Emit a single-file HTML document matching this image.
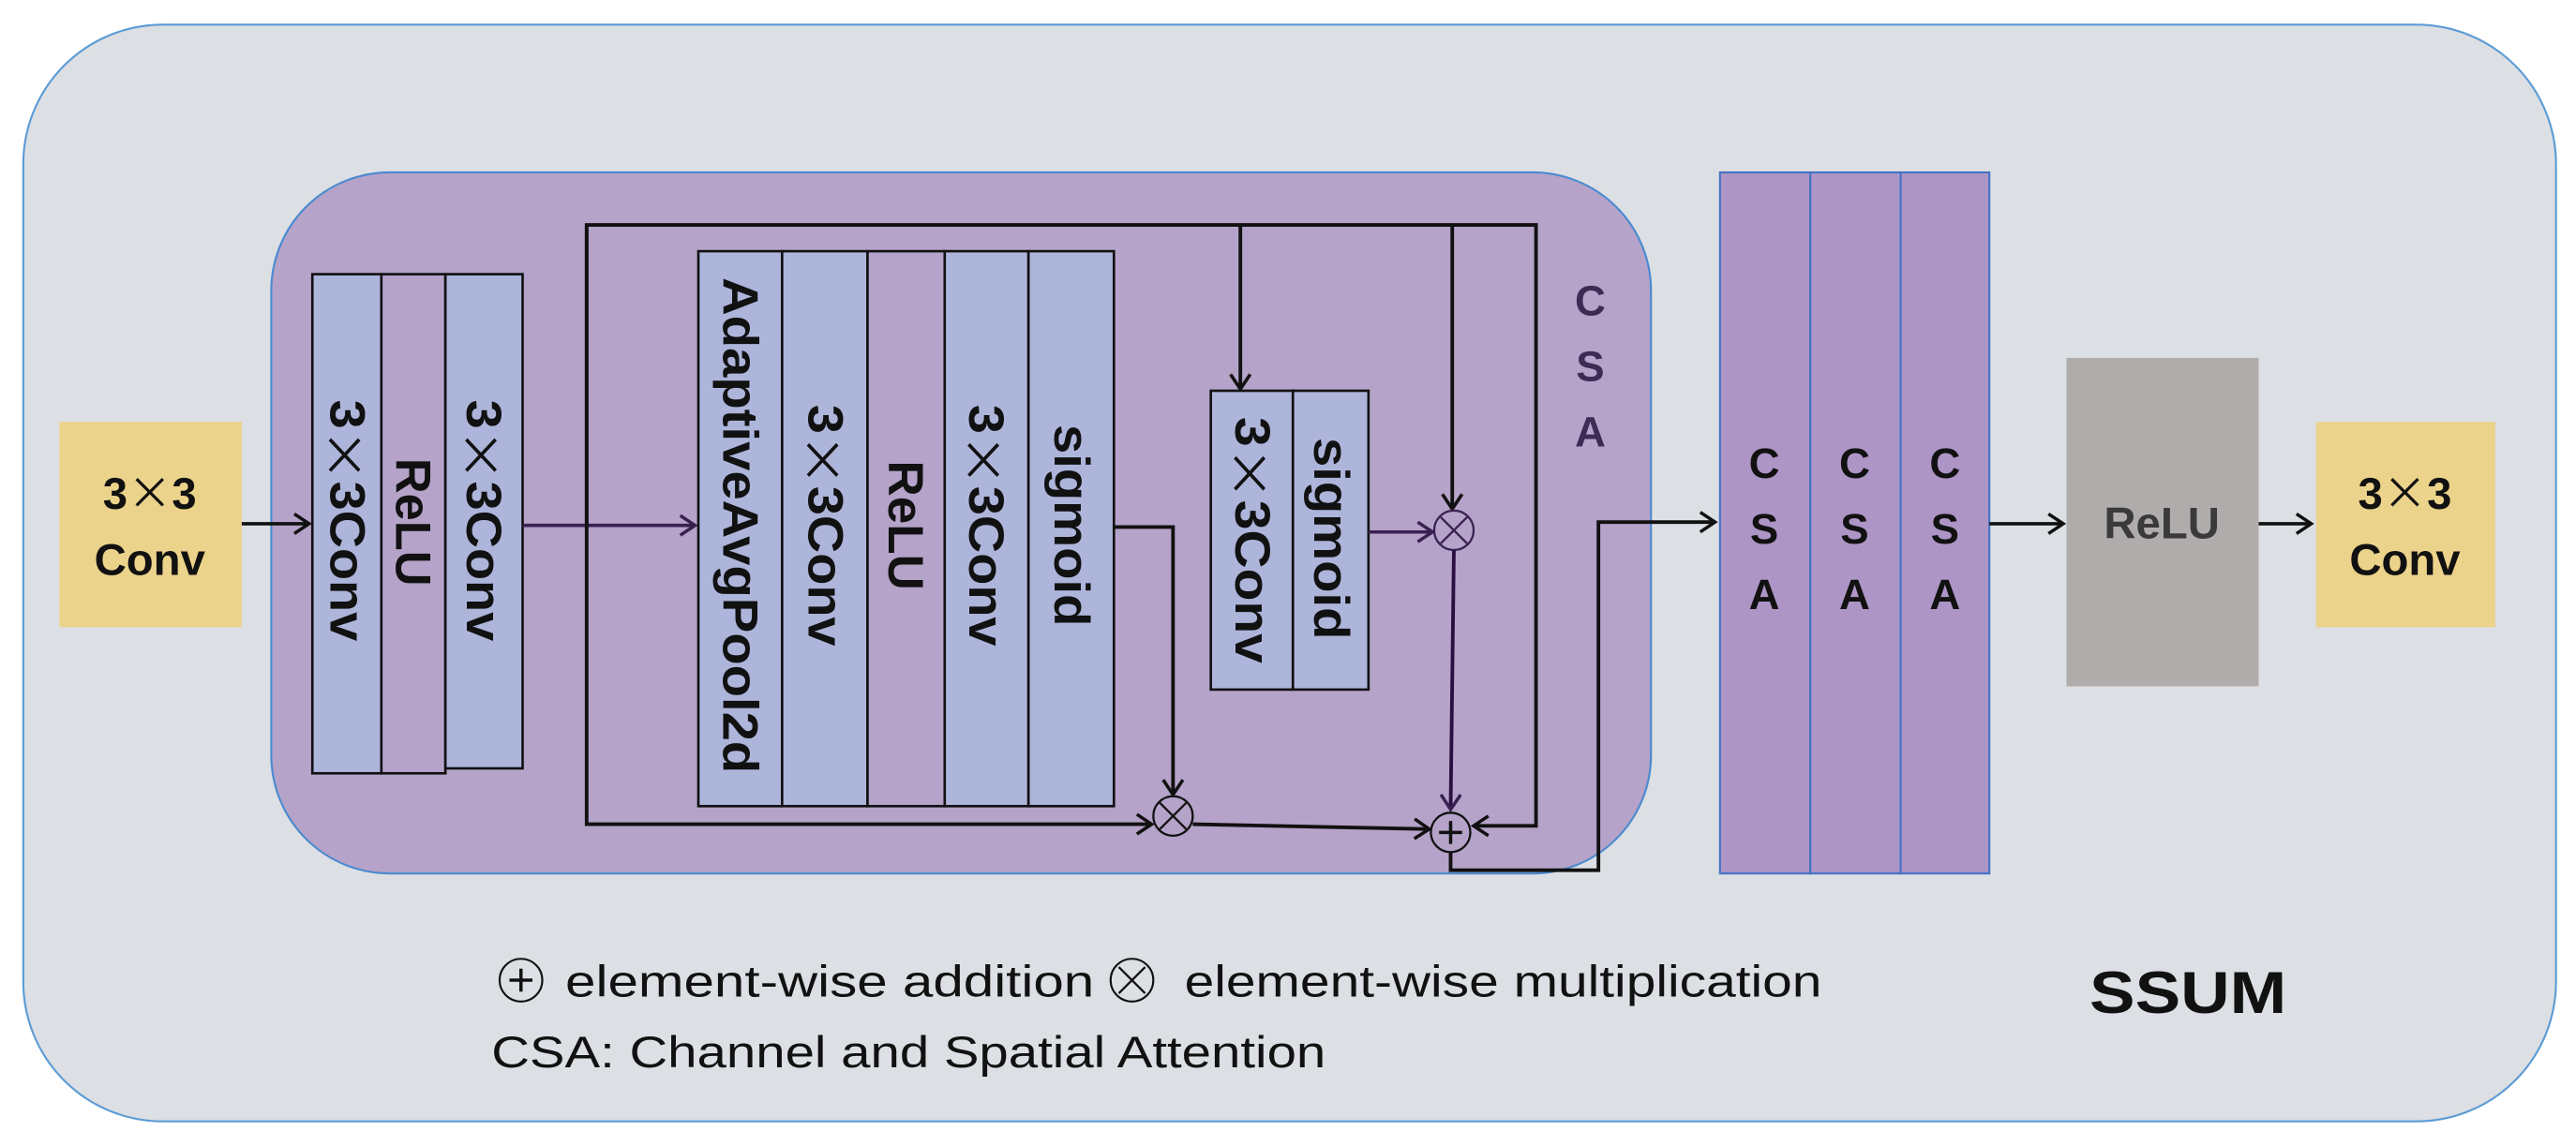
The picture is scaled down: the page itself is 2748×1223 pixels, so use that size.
<!DOCTYPE html>
<html><head><meta charset="utf-8"><style>html,body{margin:0;padding:0;background:#fff}svg{display:block}.x{font-family:"Noto Sans CJK SC",sans-serif;font-weight:normal}</style></head>
<body>
<svg xmlns="http://www.w3.org/2000/svg" width="2748" height="1223" viewBox="0 0 1568 698" font-family="'Liberation Sans', sans-serif">
<defs>
<marker id="a" markerWidth="14" markerHeight="14" refX="11" refY="7" orient="auto" markerUnits="userSpaceOnUse"><path d="M2,1 L11,7 L2,13" fill="none" stroke="#111" stroke-width="2"/></marker>
<marker id="p" markerWidth="14" markerHeight="14" refX="11" refY="7" orient="auto" markerUnits="userSpaceOnUse"><path d="M2,1 L11,7 L2,13" fill="none" stroke="#3a2050" stroke-width="2"/></marker>
</defs>
<rect width="1568" height="698" fill="#fff"/>
<rect x="14" y="15" width="1542" height="668" rx="85" fill="#dcdfe3" stroke="#5b9bd5" stroke-width="1.2"/>
<rect x="165" y="105" width="840" height="427" rx="72" fill="#b5a3c9" stroke="#4a8ad0" stroke-width="1.2"/>
<!-- input conv -->
<rect x="36" y="257" width="111" height="125" fill="#ecd38b"/>
<text x="91" y="310" font-size="27" font-weight="bold" text-anchor="middle" fill="#111">3<tspan class="x">×</tspan>3</text>
<text x="91" y="350" font-size="27" font-weight="bold" text-anchor="middle" fill="#111">Conv</text>
<line x1="147" y1="319" x2="188" y2="319" stroke="#111" stroke-width="2" marker-end="url(#a)"/>
<!-- stack 1 -->
<g stroke="#111" stroke-width="1.5">
<rect x="190" y="167" width="42" height="304" fill="#adb5db"/>
<rect x="232" y="167" width="39" height="304" fill="#b5a3c9"/>
<rect x="271" y="167" width="47" height="301" fill="#adb5db"/>
</g>
<g font-size="30" font-weight="bold" fill="#111" text-anchor="middle" lengthAdjust="spacingAndGlyphs">
<text transform="translate(211,317) rotate(90)" dominant-baseline="central" textLength="147" lengthAdjust="spacingAndGlyphs">3<tspan class="x">×</tspan>3Conv</text>
<text transform="translate(251,318) rotate(90)" dominant-baseline="central" textLength="78" lengthAdjust="spacingAndGlyphs">ReLU</text>
<text transform="translate(294,317) rotate(90)" dominant-baseline="central" textLength="147" lengthAdjust="spacingAndGlyphs">3<tspan class="x">×</tspan>3Conv</text>
</g>
<line x1="318" y1="320" x2="423" y2="320" stroke="#3a2050" stroke-width="2" marker-end="url(#p)"/>
<!-- loop -->
<polyline points="357,320 357,137 935,137 935,503 897,503" fill="none" stroke="#111" stroke-width="2.2" marker-end="url(#a)"/>
<polyline points="357,137 357,502 701,502" fill="none" stroke="#111" stroke-width="2.2" marker-end="url(#a)"/>
<!-- stack 2 -->
<g stroke="#111" stroke-width="1.5">
<rect x="425" y="153" width="51" height="338" fill="#adb5db"/>
<rect x="476" y="153" width="52" height="338" fill="#adb5db"/>
<rect x="528" y="153" width="47" height="338" fill="#b5a3c9"/>
<rect x="575" y="153" width="51" height="338" fill="#adb5db"/>
<rect x="626" y="153" width="52" height="338" fill="#adb5db"/>
</g>
<g font-size="30" font-weight="bold" fill="#111" text-anchor="middle">
<text transform="translate(450,320) rotate(90)" dominant-baseline="central" textLength="302" lengthAdjust="spacingAndGlyphs">AdaptiveAvgPool2d</text>
<text transform="translate(502,320) rotate(90)" dominant-baseline="central" textLength="147" lengthAdjust="spacingAndGlyphs">3<tspan class="x">×</tspan>3Conv</text>
<text transform="translate(551,320) rotate(90)" dominant-baseline="central" textLength="79" lengthAdjust="spacingAndGlyphs">ReLU</text>
<text transform="translate(600,320) rotate(90)" dominant-baseline="central" textLength="147" lengthAdjust="spacingAndGlyphs">3<tspan class="x">×</tspan>3Conv</text>
<text transform="translate(652,320) rotate(90)" dominant-baseline="central" textLength="123" lengthAdjust="spacingAndGlyphs">sigmoid</text>
</g>
<polyline points="678,321 714,321 714,484" fill="none" stroke="#111" stroke-width="2.2" marker-end="url(#a)"/>
<circle cx="714" cy="497" r="12" fill="none" stroke="#111" stroke-width="1.3"/>
<path d="M706,489 L722,505 M722,489 L706,505" stroke="#111" stroke-width="1.3"/>
<line x1="726" y1="502" x2="870" y2="505" stroke="#111" stroke-width="2.2" marker-end="url(#a)"/>
<!-- top branch -->
<line x1="755" y1="137" x2="755" y2="237" stroke="#111" stroke-width="2.2" marker-end="url(#a)"/>
<g stroke="#111" stroke-width="1.5">
<rect x="737" y="238" width="50" height="182" fill="#adb5db"/>
<rect x="787" y="238" width="46" height="182" fill="#adb5db"/>
</g>
<g font-size="30" font-weight="bold" fill="#111" text-anchor="middle">
<text transform="translate(762,329) rotate(90)" dominant-baseline="central" textLength="150" lengthAdjust="spacingAndGlyphs">3<tspan class="x">×</tspan>3Conv</text>
<text transform="translate(810,328) rotate(90)" dominant-baseline="central" textLength="123" lengthAdjust="spacingAndGlyphs">sigmoid</text>
</g>
<line x1="833" y1="324" x2="872" y2="324" stroke="#3a2050" stroke-width="2" marker-end="url(#p)"/>
<line x1="884" y1="137" x2="884" y2="310" stroke="#111" stroke-width="2.2" marker-end="url(#a)"/>
<circle cx="885" cy="323" r="12" fill="none" stroke="#3a2050" stroke-width="1.3"/>
<path d="M877,315 L893,331 M893,315 L877,331" stroke="#3a2050" stroke-width="1.3"/>
<line x1="885" y1="335" x2="883" y2="493" stroke="#2a1040" stroke-width="2.2" marker-end="url(#p)"/>
<circle cx="883" cy="507" r="12" fill="none" stroke="#111" stroke-width="1.3"/>
<path d="M876,507 L890,507 M883,500 L883,514" stroke="#111" stroke-width="2"/>
<polyline points="883,519 883,530 973,530 973,318 1044,318" fill="none" stroke="#111" stroke-width="2.2" marker-end="url(#a)"/>
<g font-size="26" font-weight="bold" fill="#3e2a55" text-anchor="middle">
<text x="968" y="192">C</text><text x="968" y="232">S</text><text x="968" y="272">A</text>
</g>
<!-- CSA x3 -->
<g stroke="#4472c4" stroke-width="1.2" fill="#ad95c6">
<rect x="1047" y="105" width="55" height="427"/>
<rect x="1102" y="105" width="55" height="427"/>
<rect x="1157" y="105" width="54" height="427"/>
</g>
<g font-size="26" font-weight="bold" fill="#111" text-anchor="middle">
<text x="1074" y="291">C</text><text x="1074" y="331">S</text><text x="1074" y="371">A</text>
<text x="1129" y="291">C</text><text x="1129" y="331">S</text><text x="1129" y="371">A</text>
<text x="1184" y="291">C</text><text x="1184" y="331">S</text><text x="1184" y="371">A</text>
</g>
<line x1="1211" y1="319" x2="1256" y2="319" stroke="#111" stroke-width="2" marker-end="url(#a)"/>
<rect x="1258" y="218" width="117" height="200" fill="#b0acac"/>
<text x="1316" y="328" font-size="27" font-weight="bold" text-anchor="middle" fill="#3a3a3a">ReLU</text>
<line x1="1375" y1="319" x2="1407" y2="319" stroke="#111" stroke-width="2" marker-end="url(#a)"/>
<rect x="1410" y="257" width="109" height="125" fill="#ecd38b"/>
<text x="1464" y="310" font-size="27" font-weight="bold" text-anchor="middle" fill="#111">3<tspan class="x">×</tspan>3</text>
<text x="1464" y="350" font-size="27" font-weight="bold" text-anchor="middle" fill="#111">Conv</text>
<!-- legend -->
<circle cx="317" cy="597" r="13" fill="none" stroke="#111" stroke-width="1.2"/>
<path d="M310,597 L324,597 M317,590 L317,604" stroke="#111" stroke-width="2"/>
<text x="344" y="607" font-size="27" fill="#111" textLength="322" lengthAdjust="spacingAndGlyphs">element-wise addition</text>
<circle cx="689" cy="597" r="13" fill="none" stroke="#111" stroke-width="1.2"/>
<path d="M681,589 L697,605 M697,589 L681,605" stroke="#111" stroke-width="1.3"/>
<text x="721" y="607" font-size="27" fill="#111" textLength="388" lengthAdjust="spacingAndGlyphs">element-wise multiplication</text>
<text x="299" y="650" font-size="27" fill="#111" textLength="508" lengthAdjust="spacingAndGlyphs">CSA: Channel and Spatial Attention</text>
<text x="1272" y="617" font-size="36" font-weight="bold" fill="#111" textLength="120" lengthAdjust="spacingAndGlyphs">SSUM</text>
</svg>
</body></html>
